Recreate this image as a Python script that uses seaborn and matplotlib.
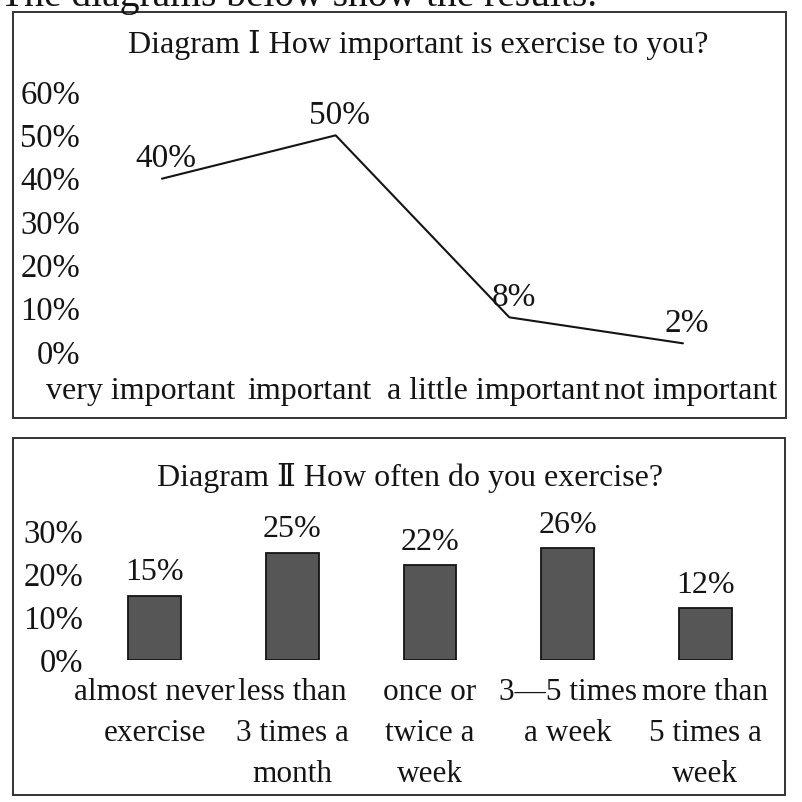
import matplotlib
matplotlib.use("Agg")
import matplotlib.pyplot as plt
import matplotlib.transforms as mtransforms
from matplotlib.patches import Rectangle
import seaborn as sns
import pandas as pd

# Diagram I data
importance_levels = ["very important", "important", "a little important", "not important"]
importance_pct = [40, 50, 8, 2]
importance_ticks = [0, 10, 20, 30, 40, 50, 60]

# Diagram II data
frequency_levels = ["almost never\nexercise", "less than\n3 times a\nmonth", "once or\ntwice a\nweek",
                    "3\u20145 times\na week", "more than\n5 times a\nweek"]
frequency_pct = [15, 25, 22, 26, 12]
frequency_ticks = [0, 10, 20, 30]

title1 = "Diagram \u2160 How important is exercise to you?"
title2 = "Diagram \u2161 How often do you exercise?"
intro = "The diagrams below show the results."

sns.set_theme(style="white")
plt.rcParams["font.family"] = ["Liberation Serif", "DejaVu Serif", "Noto Sans CJK SC"]

W = H = 802
INK = "#141414"
fig = plt.figure(figsize=(W / 100, H / 100), dpi=100)
fig.patch.set_facecolor("white")


def px_axes(left, top, right, bottom):
    return fig.add_axes([left / W, 1 - bottom / H, (right - left) / W, (bottom - top) / H])


def px_box(left, top, right, bottom):
    fig.patches.append(Rectangle((left / W, 1 - bottom / H), (right - left) / W, (bottom - top) / H,
                                 transform=fig.transFigure, fill=False, edgecolor="#333333", lw=1.4))


# sentence cut off at the very top of the scan
fig.text(0.0, 1 - 6 / H, intro, fontsize=28.5, va="baseline", ha="left", color=INK)

# ---------- Diagram I ----------
px_box(13, 12, 786, 418)
fig.text(418 / W, 1 - 45 / H, title1, fontsize=23, ha="center", va="center", color=INK)

df1 = pd.DataFrame({"level": importance_levels, "pct": importance_pct})
ax1 = px_axes(162, 92, 683, 352)
sns.lineplot(data=df1, x="level", y="pct", ax=ax1, color=INK, lw=1.5, sort=False)
ax1.set_xlim(0, 3)
ax1.set_ylim(0, 60)
ax1.set_yticks(importance_ticks)
ax1.set_yticklabels([f"{t}%" for t in importance_ticks], fontsize=23.5, ha="right", color=INK)
ax1.tick_params(axis="y", length=0, pad=59)
ax1.tick_params(axis="x", length=0, pad=18, labelsize=23, labelcolor=INK)
# labels in the scan sit a little off the points
label_dx = [-21, -26, -16, 8]
for lab, dx in zip(ax1.get_xticklabels(), label_dx):
    lab.set_transform(lab.get_transform() + mtransforms.ScaledTranslation(dx / 100, 0, fig.dpi_scale_trans))
for i, v in enumerate(importance_pct):
    ax1.annotate(f"{v}%", (i, v), xytext=(3, 14), textcoords="offset points",
                 ha="center", va="center", fontsize=24, color=INK, annotation_clip=False)
ax1.set_xlabel("")
ax1.set_ylabel("")
for s in ax1.spines.values():
    s.set_visible(False)
ax1.patch.set_alpha(0)
for line in ax1.lines:
    line.set_clip_on(False)

# ---------- Diagram II ----------
px_box(13, 438, 785, 795)
fig.text(410 / W, 1 - 478 / H, title2, fontsize=23, ha="center", va="center", color=INK)

df2 = pd.DataFrame({"freq": frequency_levels, "pct": frequency_pct})
ax2 = px_axes(86, 531, 774, 660)
sns.barplot(data=df2, x="freq", y="pct", ax=ax2, color="#565656", width=0.385,
            edgecolor=INK, linewidth=1.3, saturation=1)
ax2.set_xlim(-0.5, 4.5)
ax2.set_ylim(0, 30)
ax2.set_yticks(frequency_ticks)
ax2.set_yticklabels([f"{t}%" for t in frequency_ticks], fontsize=23.5, ha="right", color=INK)
ax2.tick_params(axis="y", length=0, pad=2)
ax2.tick_params(axis="x", length=0, pad=13)
ax2.set_xticks(range(len(frequency_levels)))
ax2.set_xticklabels(frequency_levels, fontsize=22.5, linespacing=1.55, color=INK)
for c in ax2.containers:
    ax2.bar_label(c, labels=[f"{v}%" for v in frequency_pct], padding=6, fontsize=23, color=INK)
ax2.set_xlabel("")
ax2.set_ylabel("")
for s in ax2.spines.values():
    s.set_visible(False)
ax2.patch.set_alpha(0)

fig.savefig("out.png", dpi=100, facecolor="white")
